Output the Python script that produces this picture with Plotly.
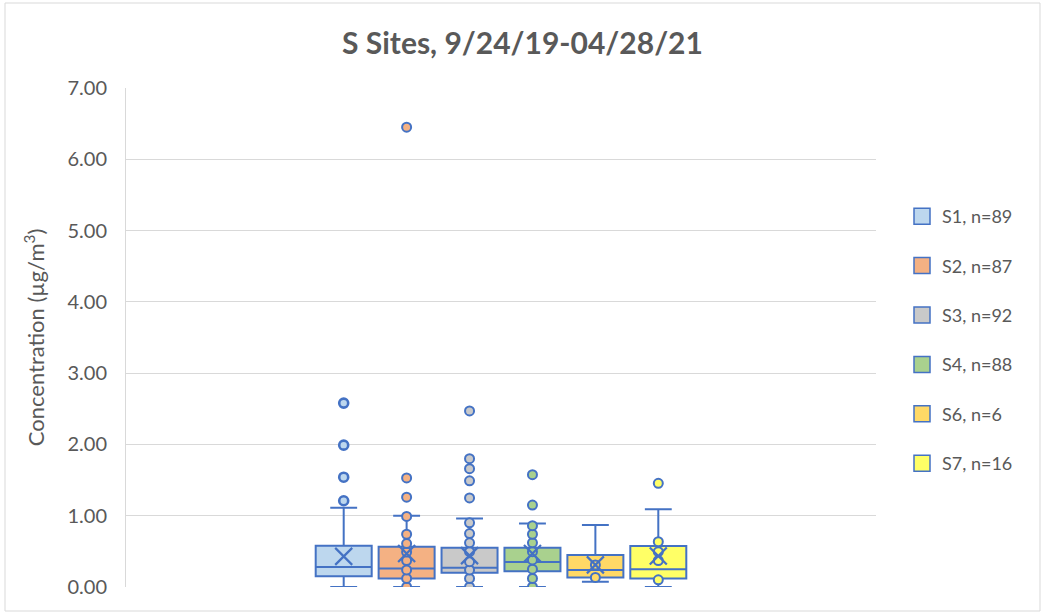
import plotly.graph_objects as go

# ---- data ----
sites = ["S1", "S2", "S3", "S4", "S6", "S7"]
counts = [89, 87, 92, 88, 6, 16]
q1 = [0.15, 0.12, 0.20, 0.22, 0.135, 0.12]
median = [0.28, 0.26, 0.27, 0.35, 0.24, 0.25]
q3 = [0.58, 0.565, 0.55, 0.55, 0.45, 0.575]
lower_whisker = [0.0, 0.0, 0.0, 0.0, 0.075, 0.0]
upper_whisker = [1.11, 1.0, 0.96, 0.89, 0.87, 1.09]
mean = [0.43, 0.47, 0.44, 0.47, 0.31, 0.435]

s1_points = [1.21, 1.54, 1.99, 2.58]
s2_points = [0.0, 0.12, 0.24, 0.37, 0.49, 0.61, 0.74, 0.99, 1.26, 1.53, 6.45]
s3_points = [0.0, 0.12, 0.24, 0.355, 0.495, 0.62, 0.75, 0.90, 1.25, 1.49, 1.66, 1.80, 2.47]
s4_points = [0.0, 0.12, 0.25, 0.38, 0.495, 0.62, 0.74, 0.86, 1.15, 1.575]
s6_points = [0.135, 0.31]
s7_points = [0.10, 0.37, 0.495, 0.635, 1.455]
site_points = [s1_points, s2_points, s3_points, s4_points, s6_points, s7_points]

y_ticks = [0, 1, 2, 3, 4, 5, 6, 7]

# ---- styles ----
fills = ["#BDD7EE", "#F4B183", "#C9C9C9", "#A9D18E", "#FFD966", "#FFFF66"]
point_line_widths = [2.6, 2, 2, 2, 2, 2]
edge = "#4472C4"
text_col = "#595959"
grid_col = "#D9D9D9"
font_family = "Lato, 'Open Sans', sans-serif"

fig = go.Figure()

for i, s in enumerate(sites):
    fig.add_trace(go.Box(
        x=[i], q1=[q1[i]], median=[median[i]], q3=[q3[i]],
        lowerfence=[lower_whisker[i]], upperfence=[upper_whisker[i]],
        width=0.89, fillcolor=fills[i], line=dict(color=edge, width=2),
        whiskerwidth=0.48, boxpoints=False, showlegend=False, hoverinfo="skip",
    ))

for i, s in enumerate(sites):
    pts = site_points[i]
    fig.add_trace(go.Scatter(
        x=[i] * len(pts), y=pts, mode="markers",
        marker=dict(symbol="circle", size=9, color=fills[i],
                    line=dict(color=edge, width=point_line_widths[i])),
        showlegend=False, hoverinfo="skip",
    ))

fig.add_trace(go.Scatter(
    x=list(range(len(sites))), y=mean, mode="markers",
    marker=dict(symbol="x-thin", size=17, color=edge,
                line=dict(color=edge, width=2.2)),
    showlegend=False, hoverinfo="skip",
))

# legend entries
for i, s in enumerate(sites):
    fig.add_trace(go.Scatter(
        x=[None], y=[None], mode="markers", name=f"{s}, n={counts[i]}",
        legendgroup=s,
        marker=dict(symbol="square", size=16, color=fills[i],
                    line=dict(color=edge, width=1.5)),
    ))

W, H = 1045, 616
L, R, T, B = 126, 169, 88, 29
pw, ph = W - L - R, H - T - B


def px_x(p):
    return (p - L) / pw


def px_y(p):
    return (H - B - p) / ph


fig.update_layout(
    width=W, height=H,
    margin=dict(l=L, r=R, t=T, b=B, autoexpand=False),
    paper_bgcolor="white", plot_bgcolor="white",
    font=dict(family=font_family, color=text_col, size=18),
    title=dict(text="<b>S Sites, 9/24/19-04/28/21</b>", x=0.5, xanchor="center",
               y=1 - 43 / H, yanchor="middle",
               font=dict(size=30, color=text_col, family=font_family)),
    xaxis=dict(range=[-3.46, 8.46], visible=False),
    yaxis=dict(range=[0, 7], tickvals=y_ticks, tickformat=".2f",
               showgrid=True, gridcolor=grid_col, gridwidth=1,
               showline=True, linecolor=grid_col, linewidth=1,
               zeroline=False, ticklabelstandoff=14,
               tickfont=dict(size=20, color=text_col),
               title=dict(text="Concentration (µg/m<sup>3</sup>)",
                          font=dict(size=22, color=text_col), standoff=16),
               automargin=False),
    legend=dict(x=px_x(902), xanchor="left", y=px_y(340), yanchor="middle",
                font=dict(size=18, color=text_col), tracegroupgap=23,
                bgcolor="rgba(0,0,0,0)"),
    shapes=[dict(type="rect", xref="paper", yref="paper",
                 x0=px_x(5), x1=px_x(1040), y0=px_y(611), y1=px_y(3),
                 line=dict(color=grid_col, width=1), layer="below")],
)

fig.write_html("out.html", config={"displayModeBar": False},
               post_script="document.body.style.margin='0';document.body.style.overflow='hidden';")
